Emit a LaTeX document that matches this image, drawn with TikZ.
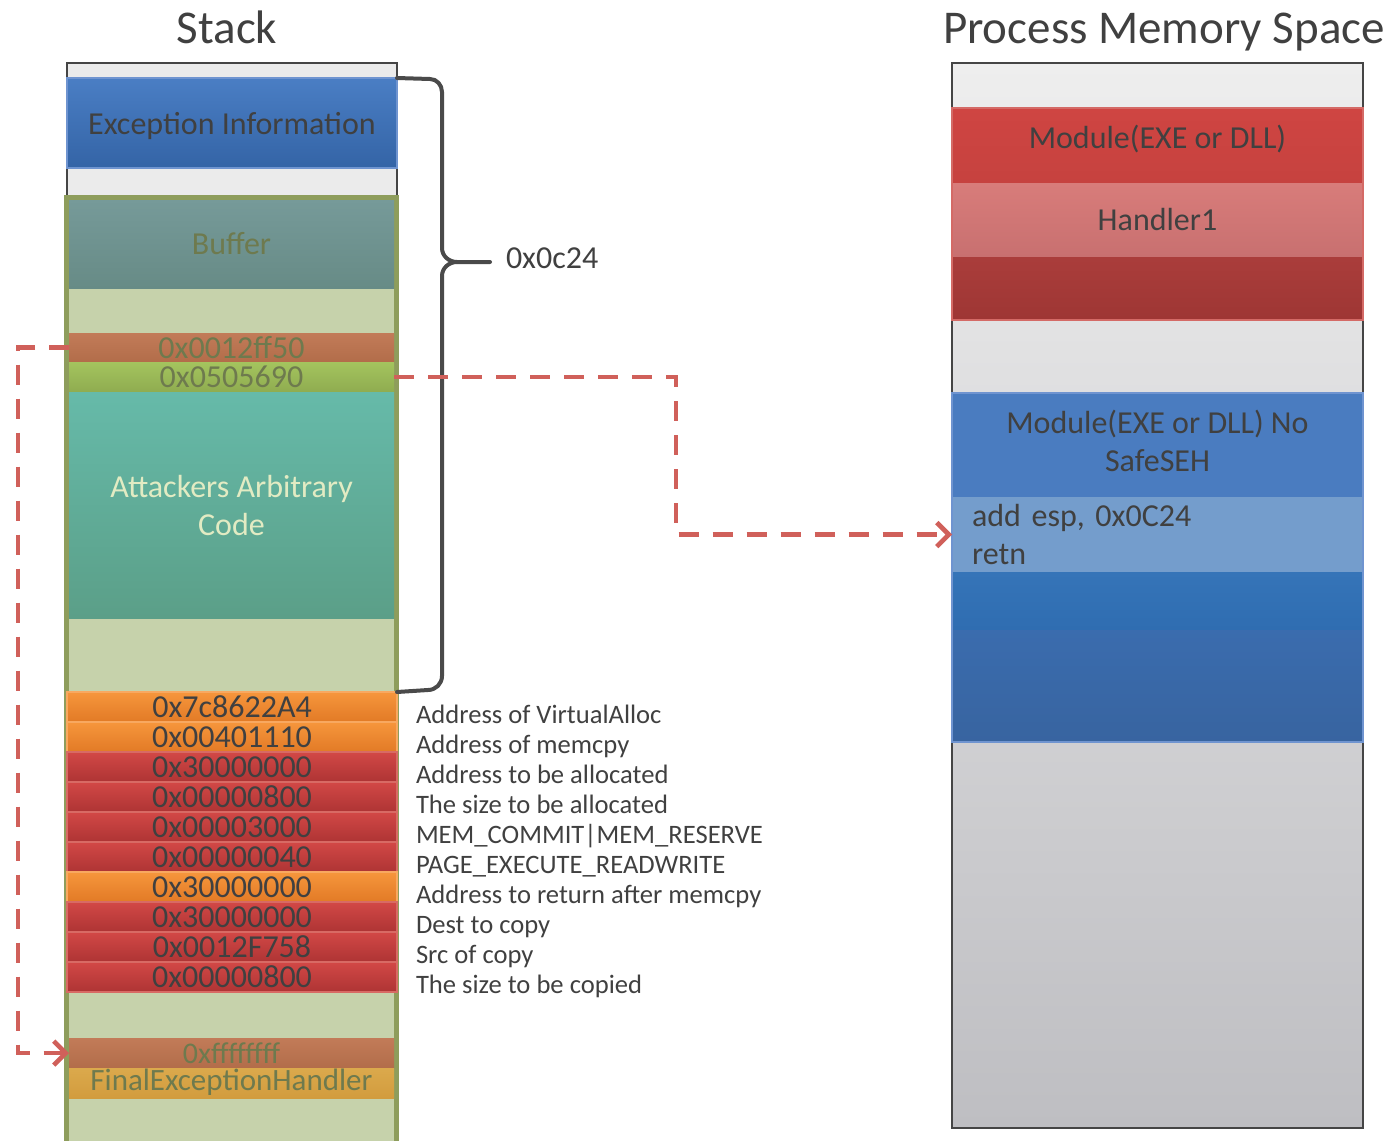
\documentclass[tikz,border=0pt]{standalone}
\usepackage{fontspec}
\setmainfont{Carlito}
\usetikzlibrary{arrows.meta,positioning}

\definecolor{ink}{HTML}{404040}
\definecolor{frameink}{HTML}{454545}
\definecolor{stackgray}{HTML}{EBEBEB}
\definecolor{excTop}{HTML}{4A7EC4}
\definecolor{excBot}{HTML}{3464A6}
\definecolor{excLine}{HTML}{6F94D0}
\definecolor{frameGreen}{HTML}{8E9D5C}
\definecolor{bodyGreen}{HTML}{C6D2AB}
\definecolor{bufTop}{HTML}{769A99}
\definecolor{bufBot}{HTML}{678B86}
\definecolor{olive}{HTML}{6E7A4E}
\definecolor{ffTop}{HTML}{C27B58}
\definecolor{ffBot}{HTML}{B26D4A}
\definecolor{grnTop}{HTML}{A4C45E}
\definecolor{grnBot}{HTML}{8FAC50}
\definecolor{codeTop}{HTML}{66BAA9}
\definecolor{codeBot}{HTML}{5B9F88}
\definecolor{codeText}{HTML}{E2EBC3}
\definecolor{orTop}{HTML}{F6963C}
\definecolor{orBot}{HTML}{E27A26}
\definecolor{orLine}{HTML}{F8A860}
\definecolor{rdTop}{HTML}{D24846}
\definecolor{rdBot}{HTML}{AE3434}
\definecolor{rdLine}{HTML}{D86A64}
\definecolor{finTop}{HTML}{DBA94C}
\definecolor{finBot}{HTML}{D29C3E}
\definecolor{memTop}{HTML}{EEEEEE}
\definecolor{memBot}{HTML}{BEBEC2}
\definecolor{modTop}{HTML}{CF4542}
\definecolor{modBot}{HTML}{C6423F}
\definecolor{hdlTop}{HTML}{D87C7A}
\definecolor{hdlBot}{HTML}{C87070}
\definecolor{modEndTop}{HTML}{AA3D3B}
\definecolor{modEndBot}{HTML}{9E3634}
\definecolor{modLine}{HTML}{D46A66}
\definecolor{noSafe}{HTML}{4A7CC0}
\definecolor{asmBand}{HTML}{749DCC}
\definecolor{noSafeTop}{HTML}{3574B8}
\definecolor{noSafeMid}{HTML}{2F6DB1}
\definecolor{noSafeLow}{HTML}{3A6CAE}
\definecolor{noSafeBot}{HTML}{3864A0}
\definecolor{jumpred}{HTML}{D0605A}
\definecolor{braceink}{HTML}{4A4A4A}

\frenchspacing
\begin{document}
\begin{tikzpicture}[
        x=0.5pt, y=-0.5pt,
        every node/.style={inner sep=0pt, outer sep=0pt, text=ink, font=\fontsize{16}{19}\selectfont},
        title/.style={font=\fontsize{23.5}{28}\selectfont},
        block/.style={minimum width=162.5pt, anchor=north},
        slot/.style={minimum width=165pt, minimum height=15pt, line width=0.6pt},
        callslot/.style={slot, top color=orTop, bottom color=orBot, draw=orLine},
        argslot/.style={slot, top color=rdTop, bottom color=rdBot, draw=rdLine},
        note/.style={anchor=base west, xshift=9.5pt, yshift=-8pt, font=\fontsize{13.3}{16}\selectfont},
        region/.style={minimum width=205.5pt, anchor=north},
        jump/.style={draw=jumpred, line width=2.3pt, dash pattern=on 10pt off 7pt, -{Straight Barb[length=6pt,width=12pt]}},
        bracket/.style={draw=braceink, line width=2pt, line join=round, line cap=round}
    ]
    \useasboundingbox (0,0) rectangle (1388,1141);

    % Titles
    \node[title, anchor=base] (stacktitle) at (227,43) {Stack};
    \node[title, anchor=base west] (memtitle) at (943,43) {Process Memory Space};

    % Stack
    \node[draw=frameink, line width=1pt, fill=stackgray, minimum width=165pt, minimum height=67pt, anchor=north] (stacktop) at (232,63) {};
    \node[block, minimum width=165pt, minimum height=45pt, top color=excTop, bottom color=excBot, draw=excLine, line width=0.8pt, text height=12pt, text depth=0.7pt] (exc) at (232,78) {Exception Information};
    \draw[draw=frameGreen, fill=bodyGreen, line width=2.5pt] (66.5,197.5) rectangle (396.5,1160);

    \node[block, minimum height=44pt, top color=bufTop, bottom color=bufBot, text=olive] (buffer) at (231.5,200) {Buffer};
    \node[block, minimum height=14.5pt, top color=ffTop, bottom color=ffBot, text=olive] (nextseh) at (231.5,333) {0x0012ff50};
    \node[block, below=0pt of nextseh, minimum height=15pt, top color=grnTop, bottom color=grnBot, text=olive] (handler) {0x0505690};
    \node[block, below=0pt of handler, minimum height=113pt, top color=codeTop, bottom color=codeBot, text=codeText, align=center] (shellcode) {Attackers Arbitrary\\Code};

    \node[callslot, anchor=north] (v1) at (232,692) {0x7c8622A4};
    \node[callslot, below=0pt of v1] (v2) {0x00401110};
    \node[argslot, below=0pt of v2] (v3) {0x30000000};
    \node[argslot, below=0pt of v3] (v4) {0x00000800};
    \node[argslot, below=0pt of v4] (v5) {0x00003000};
    \node[argslot, below=0pt of v5] (v6) {0x00000040};
    \node[callslot, below=0pt of v6] (v7) {0x30000000};
    \node[argslot, below=0pt of v7] (v8) {0x30000000};
    \node[argslot, below=0pt of v8] (v9) {0x0012F758};
    \node[argslot, below=0pt of v9] (v10) {0x00000800};

    \node[block, minimum height=15pt, top color=ffTop, bottom color=ffBot, text=olive, font=\fontsize{15}{18}\selectfont] (lastseh) at (231.5,1038) {0xffffffff};
    \node[block, below=0pt of lastseh, minimum height=15pt, top color=finTop, bottom color=finBot, text=olive, font=\fontsize{15.5}{18}\selectfont, text height=9.5pt, text depth=2pt] (final) {FinalExceptionHandler};

    % Notes
    \node[note] (n1) at (v1.east) {Address of VirtualAlloc};
    \node[note] (n2) at (v2.east) {Address of memcpy};
    \node[note] (n3) at (v3.east) {Address to be allocated};
    \node[note] (n4) at (v4.east) {The size to be allocated};
    \node[note] (n5) at (v5.east) {MEM\_COMMIT|MEM\_RESERVE};
    \node[note] (n6) at (v6.east) {PAGE\_EXECUTE\_READWRITE};
    \node[note] (n7) at (v7.east) {Address to return after memcpy};
    \node[note] (n8) at (v8.east) {Dest to copy};
    \node[note] (n9) at (v9.east) {Src of copy};
    \node[note] (n10) at (v10.east) {The size to be copied};

    % Brace
    \coordinate (bracetip) at (490,262);
    \draw[bracket] (exc.north east) -- (430,79) to[out=0,in=90] (442,92) -- (442,248) to[out=-90,in=180] (457,262) -- (bracetip);
    \draw[bracket] (457,262) to[out=180,in=90] (442,276) -- (442,676) to[out=-90,in=0] (428,690) -- (v1.north east);
    \node[right=8pt of bracetip, yshift=2pt] (size) {0x0c24};

    % Process memory
    \node[draw=frameink, line width=1pt, top color=memTop, bottom color=memBot, minimum width=205.5pt, minimum height=532.5pt, anchor=north] (mem) at (1157.5,63) {};
    \node[region, minimum height=37.5pt, top color=modTop, bottom color=modBot, text height=12pt, text depth=9.5pt] (safemod) at (1157.5,108) {Module(EXE or DLL)};
    \node[region, below=0pt of safemod, minimum height=37pt, top color=hdlTop, bottom color=hdlBot] (handler1) {Handler1};
    \node[region, below=0pt of handler1, minimum height=31.5pt, top color=modEndTop, bottom color=modEndBot] (safeend) {};
    \draw[modLine, line width=1pt] (safemod.north west) rectangle (safeend.south east);

    \node[region, minimum height=52pt, fill=noSafe, align=center, text depth=4pt] (unsafemod) at (1157.5,393) {Module(EXE or DLL) No\\SafeSEH};
    \node[region, below=0pt of unsafemod, minimum height=37.5pt, fill=asmBand, text width=185.5pt, align=left] (asm) {add esp, 0x0C24\\retn};
    \node[region, below=0pt of asm, minimum height=29pt, top color=noSafeTop, bottom color=noSafeMid] (unsafemid) {};
    \node[region, below=0pt of unsafemid, minimum height=56pt, top color=noSafeLow, bottom color=noSafeBot] (unsafeend) {};
    \draw[excLine, line width=1pt] (unsafemod.north west) rectangle (unsafeend.south east);

    % Edges
    \coordinate (bend1) at (676,377);
    \coordinate (bend2) at (18,347.5);
    \draw[jump] (handler.east) -- (bend1) |- (asm.west);
    \draw[jump] (nextseh.west) -- (bend2) |- (lastseh.west);

\end{tikzpicture}
\end{document}
